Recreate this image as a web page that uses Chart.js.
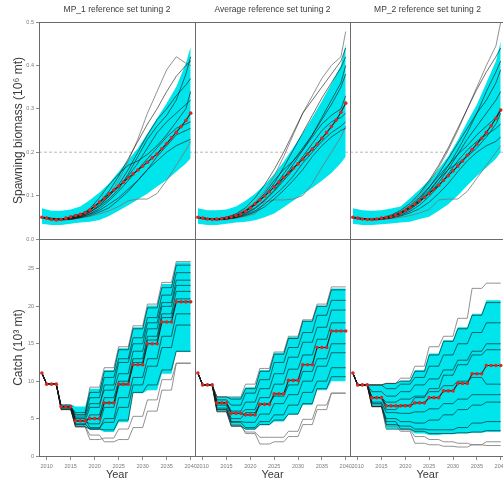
<!DOCTYPE html>
<html>
<head>
<meta charset="utf-8">
<script src="https://cdn.jsdelivr.net/npm/chart.js@4.4.1/dist/chart.umd.min.js"></script>
<style>
  html, body { margin: 0; padding: 0; background: #fff; }
  #fig { position: relative; width: 503px; height: 482px; overflow: hidden; background: #fff; }
  #fig canvas { position: absolute; }
</style>
</head>
<body>
<div id="fig"></div>
<script>
var years = [2009, 2010, 2011, 2012, 2013, 2014, 2015, 2016, 2017, 2018, 2019, 2020, 2021, 2022, 2023, 2024,
             2025, 2026, 2027, 2028, 2029, 2030, 2031, 2032, 2033, 2034, 2035, 2036, 2037, 2038, 2039, 2040];
var bioYears = [2009, 2011, 2013, 2015, 2017, 2019, 2021, 2023, 2025, 2027, 2029, 2031, 2033, 2035, 2037, 2039, 2040];
var yearTicks = [2010, 2015, 2020, 2025, 2030, 2035, 2040];
var bioTicks = [0, 0.1, 0.2, 0.3, 0.4, 0.5];
var catchTicks = [0, 5, 10, 15, 20, 25];
var refBiomass = 0.2;
var panelTitles = ['MP_1 reference set tuning 2', 'Average reference set tuning 2', 'MP_2 reference set tuning 2'];

// spawning biomass, median by year
var bioMedian1 = [0.050,0.048,0.045,0.044,0.045,0.048,0.051,0.054,0.057,0.061,0.067,0.076,0.085,0.094,0.104,0.113,
                  0.122,0.131,0.141,0.150,0.159,0.168,0.177,0.187,0.196,0.208,0.220,0.233,0.246,0.259,0.273,0.290];
var bioMedian2 = [0.050,0.048,0.046,0.045,0.046,0.047,0.049,0.051,0.054,0.058,0.064,0.072,0.081,0.090,0.099,0.109,
                  0.120,0.131,0.142,0.152,0.163,0.173,0.184,0.196,0.207,0.219,0.232,0.245,0.259,0.274,0.292,0.313];
var bioMedian3 = [0.050,0.048,0.046,0.045,0.045,0.046,0.048,0.050,0.052,0.055,0.060,0.066,0.073,0.080,0.088,0.096,
                  0.105,0.114,0.124,0.135,0.146,0.157,0.168,0.180,0.193,0.206,0.219,0.232,0.246,0.261,0.278,0.297];

// 80% envelopes (every second year)
var bioLow1  = [0.035,0.032,0.032,0.035,0.038,0.040,0.044,0.053,0.065,0.078,0.091,0.105,0.121,0.136,0.155,0.174,0.186];
var bioHigh1 = [0.071,0.065,0.065,0.068,0.075,0.090,0.107,0.128,0.155,0.182,0.209,0.243,0.278,0.313,0.351,0.405,0.443];
var bioLow2  = [0.035,0.032,0.032,0.035,0.038,0.040,0.043,0.050,0.059,0.073,0.088,0.103,0.118,0.134,0.152,0.175,0.190];
var bioHigh2 = [0.071,0.066,0.066,0.068,0.075,0.088,0.104,0.125,0.150,0.178,0.210,0.244,0.280,0.318,0.358,0.400,0.450];
var bioLow3  = [0.035,0.032,0.032,0.034,0.036,0.038,0.040,0.046,0.051,0.065,0.080,0.100,0.123,0.145,0.165,0.185,0.200];
var bioHigh3 = [0.071,0.066,0.065,0.066,0.070,0.075,0.094,0.114,0.136,0.162,0.190,0.228,0.270,0.310,0.360,0.410,0.455];

// individual simulation runs
var bioRuns1 = [
  [0.049,0.045,0.046,0.050,0.055,0.065,0.085,0.110,0.145,0.185,0.225,0.265,0.300,0.340,0.375,0.400,0.410],
  [0.050,0.047,0.044,0.047,0.052,0.062,0.078,0.098,0.125,0.160,0.200,0.240,0.275,0.300,0.330,0.355,0.370],
  [0.051,0.047,0.045,0.048,0.054,0.066,0.082,0.100,0.120,0.145,0.175,0.210,0.245,0.270,0.290,0.310,0.320],
  [0.050,0.048,0.046,0.046,0.050,0.058,0.070,0.088,0.110,0.135,0.160,0.185,0.210,0.235,0.255,0.265,0.270],
  [0.049,0.046,0.044,0.045,0.049,0.054,0.062,0.072,0.090,0.110,0.135,0.160,0.190,0.215,0.240,0.250,0.255],
  [0.050,0.047,0.045,0.047,0.051,0.057,0.066,0.080,0.095,0.115,0.135,0.160,0.180,0.200,0.215,0.225,0.230],
  [0.050,0.046,0.046,0.049,0.055,0.070,0.095,0.125,0.150,0.170,0.180,0.195,0.215,0.240,0.270,0.300,0.340],
  [0.050,0.046,0.045,0.048,0.053,0.062,0.075,0.092,0.115,0.150,0.190,0.230,0.260,0.285,0.320,0.380,0.420]
];
var bioGray1 = [
  [0.050,0.046,0.045,0.048,0.052,0.060,0.075,0.100,0.135,0.180,0.230,0.290,0.340,0.390,0.420,0.405,0.400],
  [0.049,0.046,0.044,0.045,0.048,0.052,0.058,0.065,0.075,0.088,0.092,0.092,0.105,0.135,0.170,0.205,0.225]
];
var bioRuns2 = [
  [0.050,0.047,0.046,0.050,0.058,0.072,0.095,0.125,0.160,0.200,0.245,0.290,0.320,0.350,0.380,0.410,0.440],
  [0.049,0.045,0.045,0.048,0.054,0.064,0.080,0.100,0.128,0.165,0.205,0.245,0.285,0.325,0.360,0.395,0.420],
  [0.050,0.047,0.044,0.047,0.053,0.063,0.078,0.098,0.120,0.150,0.180,0.210,0.240,0.275,0.310,0.350,0.380],
  [0.051,0.047,0.046,0.049,0.055,0.066,0.082,0.105,0.135,0.160,0.180,0.205,0.235,0.265,0.285,0.300,0.330],
  [0.050,0.046,0.045,0.046,0.050,0.058,0.070,0.088,0.110,0.135,0.160,0.190,0.220,0.250,0.270,0.280,0.290],
  [0.049,0.046,0.044,0.046,0.050,0.056,0.065,0.080,0.100,0.120,0.145,0.175,0.200,0.225,0.245,0.260,0.270],
  [0.050,0.047,0.045,0.046,0.049,0.054,0.062,0.074,0.092,0.112,0.135,0.160,0.190,0.215,0.235,0.250,0.255],
  [0.050,0.046,0.045,0.047,0.052,0.060,0.072,0.090,0.112,0.140,0.172,0.205,0.240,0.280,0.320,0.360,0.400]
];
var bioGray2 = [
  [0.050,0.046,0.046,0.050,0.056,0.068,0.085,0.110,0.145,0.190,0.240,0.290,0.330,0.370,0.400,0.420,0.478],
  [0.049,0.045,0.044,0.045,0.048,0.052,0.058,0.085,0.090,0.090,0.092,0.100,0.128,0.165,0.200,0.235,0.260]
];
var bioRuns3 = [
  [0.050,0.047,0.045,0.048,0.055,0.066,0.082,0.105,0.135,0.170,0.210,0.255,0.300,0.345,0.385,0.420,0.440],
  [0.049,0.045,0.045,0.047,0.052,0.060,0.073,0.092,0.118,0.150,0.185,0.220,0.255,0.290,0.320,0.360,0.390],
  [0.050,0.047,0.044,0.046,0.051,0.059,0.070,0.085,0.105,0.130,0.160,0.195,0.230,0.260,0.290,0.320,0.340],
  [0.051,0.047,0.046,0.048,0.053,0.062,0.076,0.096,0.120,0.145,0.170,0.195,0.215,0.240,0.260,0.280,0.300],
  [0.050,0.046,0.045,0.046,0.049,0.055,0.064,0.078,0.098,0.122,0.150,0.180,0.205,0.225,0.240,0.255,0.265],
  [0.049,0.046,0.044,0.045,0.048,0.053,0.060,0.070,0.085,0.105,0.128,0.155,0.180,0.200,0.215,0.225,0.235],
  [0.050,0.047,0.045,0.046,0.050,0.057,0.068,0.084,0.108,0.138,0.160,0.175,0.190,0.210,0.235,0.265,0.290],
  [0.050,0.046,0.045,0.047,0.052,0.060,0.072,0.090,0.112,0.138,0.168,0.205,0.245,0.290,0.340,0.385,0.410]
];
var bioGray3 = [
  [0.050,0.046,0.045,0.048,0.053,0.062,0.078,0.100,0.130,0.165,0.205,0.250,0.300,0.350,0.400,0.445,0.500],
  [0.049,0.045,0.044,0.045,0.047,0.050,0.054,0.060,0.068,0.090,0.092,0.092,0.110,0.140,0.170,0.200,0.215]
];

// catch (10^3 mt), set every three years
var catchMedian1 = [11.1, 9.6,9.6,9.6, 6.6,6.6,6.6, 4.7,4.7,4.7, 5,5,5, 7.1,7.1,7.1, 9.6,9.6,9.6, 12.2,12.2,12.2, 15,15,15, 17.9,17.9,17.9, 20.6,20.6,20.6,20.6];
var catchLow1    = [11.1, 9.6,9.6,9.6, 6.2,6.2,6.2, 3.9,3.9,3.9, 3.5,3.5,3.5, 3.2,3.2,3.2, 4.5,4.5,4.5, 8.4,8.4,8.4, 8.8,8.8,8.8, 11,11,11, 13.9,13.9,13.9,13.9];
var catchHigh1   = [11.1, 9.6,9.6,9.6, 6.9,6.9,6.9, 6.6,6.6,6.6, 9,9,9, 11.5,11.5,11.5, 14.4,14.4,14.4, 17.2,17.2,17.2, 20.1,20.1,20.1, 23,23,23, 25.9,25.9,25.9,25.9];
var catchMedian2 = [11.1, 9.5,9.5,9.5, 7.1,7.1,7.1, 5.7,5.7,5.7, 5.5,5.5,5.5, 6.9,6.9,6.9, 8.3,8.3,8.3, 10.1,10.1,10.1, 12.2,12.2,12.2, 14.5,14.5,14.5, 16.7,16.7,16.7,16.7];
var catchLow2    = [11.1, 9.5,9.5,9.5, 5.9,5.9,5.9, 3.9,3.9,3.9, 3.5,3.5,3.5, 4.1,4.1,4.1, 4.6,4.6,4.6, 5.5,5.5,5.5, 6.8,6.8,6.8, 8.8,8.8,8.8, 10,10,10,10];
var catchHigh2   = [11.1, 9.5,9.5,9.5, 7.9,7.9,7.9, 7.9,7.9,7.9, 9.2,9.2,9.2, 11.5,11.5,11.5, 13.8,13.8,13.8, 15.9,15.9,15.9, 18.1,18.1,18.1, 20.1,20.1,20.1, 22.4,22.4,22.4,22.4];
var catchMedian3 = [11.1, 9.5,9.5,9.5, 7.8,7.8,7.8, 6.7,6.7,6.7, 6.7,6.7,6.7, 7.1,7.1,7.1, 7.8,7.8,7.8, 8.7,8.7,8.7, 9.7,9.7,9.7, 11,11,11, 12.1,12.1,12.1,12.1];
var catchLow3    = [11.1, 9.5,9.5,9.5, 6.6,6.6,6.6, 3.5,3.5,3.5, 3.5,3.5,3.5, 3,3,3, 2.8,2.8,2.8, 2.9,2.9,2.9, 3,3,3, 3.1,3.1,3.1, 3.2,3.2,3.2,3.2];
var catchHigh3   = [11.1, 9.5,9.5,9.5, 9.5,9.5,9.5, 9.7,9.7,9.7, 10.1,10.1,10.1, 11.5,11.5,11.5, 13.7,13.7,13.7, 15.5,15.5,15.5, 17.2,17.2,17.2, 19,19,19, 20.8,20.8,20.8,20.8];

var catchRuns1 = [
  [11.1, 9.6,9.6,9.6, 6.6,6.6,6.6, 5.8,5.8,5.8, 8.5,8.5,8.5, 11.3,11.3,11.3, 14.2,14.2,14.2, 17,17,17, 19.8,19.8,19.8, 22.5,22.5,22.5, 25.5,25.5,25.5,25.5],
  [11.1, 9.6,9.6,9.6, 6.6,6.6,6.6, 5.5,5.5,5.5, 7.8,7.8,7.8, 10.5,10.5,10.5, 13,13,13, 15.8,15.8,15.8, 18.5,18.5,18.5, 21.5,21.5,21.5, 24.5,24.5,24.5,24.5],
  [11.1, 9.6,9.6,9.6, 6.8,6.8,6.8, 4.7,4.7,4.7, 6.5,6.5,6.5, 9.5,9.5,9.5, 12.5,12.5,12.5, 15,15,15, 17.8,17.8,17.8, 20.5,20.5,20.5, 23.5,23.5,23.5,23.5],
  [11.1, 9.6,9.6,9.6, 6.4,6.4,6.4, 4.2,4.2,4.2, 5.5,5.5,5.5, 7.8,7.8,7.8, 10,10,10, 13,13,13, 16,16,16, 19,19,19, 22,22,22,22],
  [11.1, 9.6,9.6,9.6, 6.6,6.6,6.6, 4.7,4.7,4.7, 4.3,4.3,4.3, 6.5,6.5,6.5, 9.5,9.5,9.5, 12.5,12.5,12.5, 15.5,15.5,15.5, 18.5,18.5,18.5, 21,21,21,21],
  [11.1, 9.6,9.6,9.6, 6.2,6.2,6.2, 4.3,4.3,4.3, 3.6,3.6,3.6, 5,5,5, 7.8,7.8,7.8, 10.5,10.5,10.5, 13,13,13, 16,16,16, 19,19,19,19],
  [11.1, 9.6,9.6,9.6, 6.6,6.6,6.6, 5,5,5, 3.8,3.8,3.8, 4.5,4.5,4.5, 6.5,6.5,6.5, 9.5,9.5,9.5, 12,12,12, 14.5,14.5,14.5, 17.5,17.5,17.5,17.5],
  [11.1, 9.6,9.6,9.6, 6.2,6.2,6.2, 3.9,3.9,3.9, 3.6,3.6,3.6, 3.5,3.5,3.5, 4.8,4.8,4.8, 8.5,8.5,8.5, 9.5,9.5,9.5, 11.5,11.5,11.5, 14,14,14,14],
  [11.1, 9.6,9.6,9.6, 6.6,6.6,6.6, 5.2,5.2,5.2, 7,7,7, 8.8,8.8,8.8, 11,11,11, 14,14,14, 17,17,17, 20,20,20, 22.8,22.8,22.8,22.8]
];
var catchGray1 = [
  [11.1, 9.6,9.6,9.6, 6.6,6.6,6.6, 5.5,5.5,5.5, 9.2,9.2,9.2, 11.8,11.8,11.8, 14.6,14.6,14.6, 17.4,17.4,17.4, 20.3,20.3,20.3, 23.2,23.2,23.2, 26,26,26,26],
  [11.1, 9.6,9.6,9.6, 6.4,6.4,6.4, 4,4,4, 2.8,2.8,2.8, 1.9,1.9,1.9, 2.2,2.2,2.2, 3.8,3.8,3.8, 6,6,6, 8.8,8.8,8.8, 12.4,12.4,12.4,12.4],
  [11.1, 9.6,9.6,9.6, 6.4,6.4,6.4, 3.9,3.9,3.9, 2.2,2.2,2.2, 2.4,2.4,2.4, 3.6,3.6,3.6, 5.3,5.3,5.3, 7.5,7.5,7.5, 10.2,10.2,10.2, 12.4,12.4,12.4,12.4]
];
var catchRuns2 = [
  [11.1, 9.5,9.5,9.5, 7.9,7.9,7.9, 7.6,7.6,7.6, 9,9,9, 11.3,11.3,11.3, 13.6,13.6,13.6, 15.7,15.7,15.7, 18,18,18, 20,20,20, 22.2,22.2,22.2,22.2],
  [11.1, 9.5,9.5,9.5, 7.5,7.5,7.5, 6.8,6.8,6.8, 8.4,8.4,8.4, 10.2,10.2,10.2, 12.5,12.5,12.5, 14.5,14.5,14.5, 16.5,16.5,16.5, 18.8,18.8,18.8, 20.8,20.8,20.8,20.8],
  [11.1, 9.5,9.5,9.5, 7.1,7.1,7.1, 6,6,6, 7.2,7.2,7.2, 9,9,9, 11,11,11, 13.2,13.2,13.2, 15.2,15.2,15.2, 17.2,17.2,17.2, 19.5,19.5,19.5,19.5],
  [11.1, 9.5,9.5,9.5, 7.1,7.1,7.1, 5.7,5.7,5.7, 6.2,6.2,6.2, 7.8,7.8,7.8, 9.6,9.6,9.6, 11.6,11.6,11.6, 13.5,13.5,13.5, 15.6,15.6,15.6, 17.8,17.8,17.8,17.8],
  [11.1, 9.5,9.5,9.5, 6.8,6.8,6.8, 5,5,5, 5.8,5.8,5.8, 7,7,7, 8,8,8, 9.5,9.5,9.5, 11.3,11.3,11.3, 13,13,13, 15,15,15,15],
  [11.1, 9.5,9.5,9.5, 6.4,6.4,6.4, 4.6,4.6,4.6, 4.5,4.5,4.5, 5.6,5.6,5.6, 7,7,7, 8.2,8.2,8.2, 10,10,10, 12,12,12, 13.8,13.8,13.8,13.8],
  [11.1, 9.5,9.5,9.5, 6.2,6.2,6.2, 4.5,4.5,4.5, 3.8,3.8,3.8, 4.6,4.6,4.6, 5.5,5.5,5.5, 6.8,6.8,6.8, 8.5,8.5,8.5, 10,10,10, 11.8,11.8,11.8,11.8],
  [11.1, 9.5,9.5,9.5, 5.9,5.9,5.9, 4,4,4, 3.6,3.6,3.6, 4.2,4.2,4.2, 4.8,4.8,4.8, 5.6,5.6,5.6, 7,7,7, 9,9,9, 10.6,10.6,10.6,10.6]
];
var catchGray2 = [
  [11.1, 9.5,9.5,9.5, 7.9,7.9,7.9, 7.9,7.9,7.9, 9.6,9.6,9.6, 11.7,11.7,11.7, 13.9,13.9,13.9, 16,16,16, 18.2,18.2,18.2, 20.3,20.3,20.3, 22.6,22.6,22.6,22.6],
  [11.1, 9.5,9.5,9.5, 6.2,6.2,6.2, 4.2,4.2,4.2, 3,3,3, 1.6,1.6,1.6, 1.9,1.9,1.9, 2.6,2.6,2.6, 4.2,4.2,4.2, 6.2,6.2,6.2, 8.4,8.4,8.4,8.4],
  [11.1, 9.5,9.5,9.5, 6,6,6, 4,4,4, 3.2,3.2,3.2, 2.5,2.5,2.5, 2.5,2.5,2.5, 3.3,3.3,3.3, 4.9,4.9,4.9, 6.8,6.8,6.8, 8.4,8.4,8.4,8.4]
];
var catchRuns3 = [
  [11.1, 9.5,9.5,9.5, 9.5,9.5,9.5, 9.7,9.7,9.7, 10,10,10, 11.3,11.3,11.3, 13.5,13.5,13.5, 15.3,15.3,15.3, 17,17,17, 18.8,18.8,18.8, 20.5,20.5,20.5,20.5],
  [11.1, 9.5,9.5,9.5, 9.5,9.5,9.5, 9,9,9, 9.6,9.6,9.6, 10.5,10.5,10.5, 12,12,12, 13.5,13.5,13.5, 15,15,15, 16.5,16.5,16.5, 17.8,17.8,17.8,17.8],
  [11.1, 9.5,9.5,9.5, 8.6,8.6,8.6, 8,8,8, 8.6,8.6,8.6, 9.5,9.5,9.5, 10.3,10.3,10.3, 11.5,11.5,11.5, 12.8,12.8,12.8, 14,14,14, 15,15,15,15],
  [11.1, 9.5,9.5,9.5, 7.8,7.8,7.8, 7.2,7.2,7.2, 7.6,7.6,7.6, 8,8,8, 8.6,8.6,8.6, 9.4,9.4,9.4, 10,10,10, 10.5,10.5,10.5, 9.6,9.6,9.6,9.6],
  [11.1, 9.5,9.5,9.5, 7.2,7.2,7.2, 5.8,5.8,5.8, 5.7,5.7,5.7, 5.9,5.9,5.9, 6.3,6.3,6.3, 7,7,7, 7.6,7.6,7.6, 8.2,8.2,8.2, 8.2,8.2,8.2,8.2],
  [11.1, 9.5,9.5,9.5, 6.6,6.6,6.6, 5,5,5, 4.6,4.6,4.6, 4.4,4.4,4.4, 4.8,4.8,4.8, 5.5,5.5,5.5, 6.2,6.2,6.2, 6.8,6.8,6.8, 7.2,7.2,7.2,7.2],
  [11.1, 9.5,9.5,9.5, 6.6,6.6,6.6, 4.2,4.2,4.2, 4,4,4, 3.6,3.6,3.6, 3.5,3.5,3.5, 3.5,3.5,3.5, 3.8,3.8,3.8, 4.4,4.4,4.4, 4.6,4.6,4.6,4.6],
  [11.1, 9.5,9.5,9.5, 7,7,7, 4.6,4.6,4.6, 3.6,3.6,3.6, 3.3,3.3,3.3, 3,3,3, 3,3,3, 3.1,3.1,3.1, 3.2,3.2,3.2, 3.4,3.4,3.4,3.4],
  [11.1, 9.5,9.5,9.5, 7.8,7.8,7.8, 6.2,6.2,6.2, 6.8,6.8,6.8, 7.8,7.8,7.8, 9,9,9, 10.8,10.8,10.8, 12.2,12.2,12.2, 13.5,13.5,13.5, 14.2,14.2,14.2,14.2]
];
var catchGray3 = [
  [11.1, 9.5,9.5,9.5, 9.5,9.5,9.5, 9.7,9.7,9.7, 10.4,10.4,10.4, 12,12,12, 14.6,14.6,14.6, 16,16,16, 18.4,18.4,18.4, 22.4,22.4,22.4, 23.1,23.1,23.1,23.1],
  [11.1, 9.5,9.5,9.5, 6.8,6.8,6.8, 4,4,4, 3.3,3.3,3.3, 1.7,1.7,1.7, 1.5,1.5,1.5, 1.3,1.3,1.3, 1.2,1.2,1.2, 1.5,1.5,1.5, 1.9,1.9,1.9,1.9],
  [11.1, 9.5,9.5,9.5, 6.6,6.6,6.6, 3.6,3.6,3.6, 3.5,3.5,3.5, 2.6,2.6,2.6, 2.2,2.2,2.2, 1.9,1.9,1.9, 1.7,1.7,1.7, 1.5,1.5,1.5, 1.4,1.4,1.4,1.4]
];

// panel grid (pixels)
var colLeft = [39, 195, 350];
var colWidth = [156, 155, 155];
var rowTop = [22, 239];
var plotHeight = 217;
var xMin = 2008.4, xMax = 2040.9;

var cyan = '#00e4ec';
var fontFamily = "'Liberation Sans', Arial, sans-serif";
Chart.defaults.font.family = fontFamily;

var fig = document.getElementById('fig');

function pts(xs, ys) {
  return xs.map(function (x, i) { return { x: x, y: ys[i] }; });
}

// box round each panel
var panelFrame = {
  id: 'panelFrame',
  afterDatasetsDraw: function (chart) {
    var a = chart.chartArea, ctx = chart.ctx;
    ctx.save();
    ctx.strokeStyle = '#6a6a6a';
    ctx.lineWidth = 1;
    ctx.strokeRect(Math.round(a.left) + 0.5, Math.round(a.top) + 0.5, Math.round(a.right - a.left), Math.round(a.bottom - a.top));
    ctx.restore();
  }
};

function panelSets(xsRuns, median, low, high, runs, grayRuns, withRef) {
  var sets = [];
  sets.push({ data: pts(years, median), borderColor: '#1c1c1c', borderWidth: 1.1,
              pointRadius: 1.8, pointBackgroundColor: '#d42a24', pointBorderWidth: 0, order: 0 });
  runs.forEach(function (r) {
    sets.push({ data: pts(xsRuns, r), borderColor: 'rgba(10,10,10,0.72)', borderWidth: 0.8, pointRadius: 0, order: 1 });
  });
  grayRuns.forEach(function (r) {
    sets.push({ data: pts(xsRuns, r), borderColor: 'rgba(120,120,120,0.9)', borderWidth: 0.9, pointRadius: 0, order: 2 });
  });
  sets.push({ data: pts(xsRuns, low), borderWidth: 0, pointRadius: 0, fill: false, order: 3 });
  sets.push({ data: pts(xsRuns, high), borderWidth: 0, pointRadius: 0, fill: '-1', backgroundColor: cyan, order: 3 });
  if (withRef) {
    sets.push({ data: [{ x: xMin, y: refBiomass }, { x: xMax, y: refBiomass }], borderColor: '#a8a8a8',
                borderWidth: 0.8, borderDash: [3, 2], pointRadius: 0, order: 4 });
  }
  return sets;
}

function makePanel(row, col, datasets, yMax, yTicks, fmt, yTitle) {
  var showX = row === 1, showY = col === 0;
  // margins round the plot box; wide enough that edge tick labels never squeeze it
  var L = showY ? 39 : 8, R = 8;
  var T = row === 0 ? 22 : 8, B = showX ? 26 : 8;
  var w = L + colWidth[col] + R, h = T + plotHeight + B;
  var canvas = document.createElement('canvas');
  canvas.width = w; canvas.height = h;
  canvas.style.width = w + 'px'; canvas.style.height = h + 'px';
  canvas.style.left = (colLeft[col] - L) + 'px';
  canvas.style.top = (rowTop[row] - T) + 'px';
  fig.appendChild(canvas);

  var tickFont = { size: 5.5 };
  var scales = {
    x: {
      type: 'linear', min: xMin, max: xMax, display: showX,
      afterFit: function (s) { s.height = showX ? 26 : 0; },
      afterBuildTicks: function (s) { s.ticks = yearTicks.map(function (v) { return { value: v }; }); },
      ticks: { font: tickFont, color: '#7a7a7a', padding: 3, autoSkip: false, maxRotation: 0,
               callback: function (v) { return String(v); } },
      grid: { drawOnChartArea: false, tickLength: 4, color: '#8a8a8a' },
      border: { display: false },
      title: { display: true, text: 'Year', color: '#3a3a3a', font: { size: 11 }, padding: { top: 0, bottom: 0 } }
    },
    y: {
      type: 'linear', min: 0, max: yMax, display: showY,
      afterFit: function (s) { s.width = showY ? 39 : 0; },
      afterBuildTicks: function (s) { s.ticks = yTicks.map(function (v) { return { value: v }; }); },
      ticks: { font: tickFont, color: '#7a7a7a', padding: 2, callback: fmt },
      grid: { drawOnChartArea: false, tickLength: 3, color: '#8a8a8a' },
      border: { display: false },
      title: { display: true, text: yTitle, color: '#3a3a3a', font: { size: 12 }, padding: { top: 11, bottom: 0 } }
    }
  };
  if (row === 0) {
    scales.xTitle = {
      type: 'linear', position: 'top', display: true,
      afterFit: function (s) { s.height = 22; },
      grid: { display: false }, border: { display: false }, ticks: { display: false },
      title: { display: true, text: panelTitles[col], color: '#3a3a3a', font: { size: 8.5 }, padding: { top: 5, bottom: 0 } }
    };
  }

  new Chart(canvas, {
    type: 'line',
    data: { datasets: datasets },
    options: {
      responsive: false,
      animation: false,
      devicePixelRatio: 1,
      layout: { padding: { left: showY ? 0 : L, right: R, top: row === 0 ? 0 : T, bottom: showX ? 0 : B } },
      plugins: { legend: { display: false }, tooltip: { enabled: false } },
      scales: scales
    },
    plugins: [panelFrame]
  });
}

var bioFmt = function (v) { return v.toFixed(1); };
var catchFmt = function (v) { return String(v); };
var bioTitle = 'Spawning biomass (10\u2076 mt)';
var catchTitle = 'Catch (10\u00b3 mt)';

makePanel(0, 0, panelSets(bioYears, bioMedian1, bioLow1, bioHigh1, bioRuns1, bioGray1, true), 0.5, bioTicks, bioFmt, bioTitle);
makePanel(0, 1, panelSets(bioYears, bioMedian2, bioLow2, bioHigh2, bioRuns2, bioGray2, true), 0.5, bioTicks, bioFmt, bioTitle);
makePanel(0, 2, panelSets(bioYears, bioMedian3, bioLow3, bioHigh3, bioRuns3, bioGray3, true), 0.5, bioTicks, bioFmt, bioTitle);
makePanel(1, 0, panelSets(years, catchMedian1, catchLow1, catchHigh1, catchRuns1, catchGray1, false), 29, catchTicks, catchFmt, catchTitle);
makePanel(1, 1, panelSets(years, catchMedian2, catchLow2, catchHigh2, catchRuns2, catchGray2, false), 29, catchTicks, catchFmt, catchTitle);
makePanel(1, 2, panelSets(years, catchMedian3, catchLow3, catchHigh3, catchRuns3, catchGray3, false), 29, catchTicks, catchFmt, catchTitle);
</script>
</body>
</html>
